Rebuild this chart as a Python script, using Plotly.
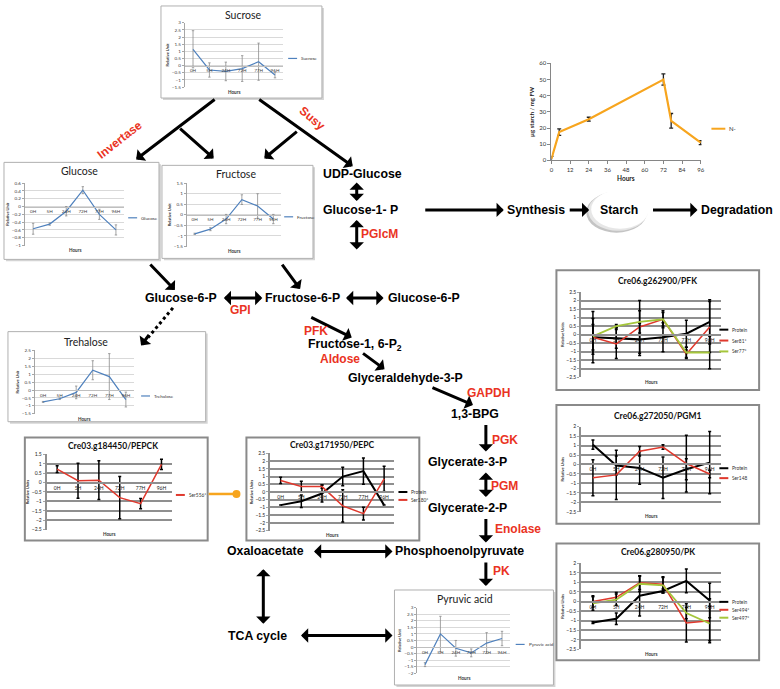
import plotly.graph_objects as go

W, H = 780, 689

# ---------------- data ----------------
HOURS = ["0H", "5H", "24H", "72H", "77H", "96H"]

sucrose = [1.15, -0.3, -0.4, -0.2, 0.28, -0.65]
sucrose_err = [1.3, 0.5, 0.65, 0.9, 1.3, 0.2]
glucose = [-0.57, -0.45, -0.12, 0.42, -0.2, -0.6]
glucose_err = [0.14, 0.03, 0.12, 0.09, 0.13, 0.13]
fructose = [-0.9, -0.68, -0.2, 0.72, 0.42, -0.2]
fructose_err = [0.03, 0.07, 0.22, 0.23, 0.58, 0.22]
trehalose = [-0.75, -0.55, -0.15, 1.25, 0.85, -0.6]
trehalose_err = [0.03, 0.05, 0.4, 0.6, 1.45, 0.47]
pyruvic = [-1.35, 1.0, -0.1, -0.45, 0.3, 0.65]
pyruvic_err = [0.15, 1.35, 0.6, 0.3, 0.8, 0.55]

starch_hours = [0, 5, 24, 72, 77, 96]
starch = [1, 17.5, 25.5, 50, 24.5, 11]
starch_err = [1.5, 2, 1.2, 3.5, 4.5, 1.2]

pepck_ser556 = [0.72, 0.1, 0.13, -0.8, -1.12, 0.97]
pepck_ser556_err = [0.18, 0.93, 1.03, 1.12, 0.27, 0.27]

pepc_protein = [-0.85, -0.6, -0.1, 1.0, 1.35, -0.85]
pepc_protein_err = [0.0, 0.4, 0.55, 0.6, 0.85, 0.0]
pepc_ser180 = [0.75, 0.35, 0.35, -0.9, -1.4, 0.85]
pepc_ser180_err = [0.2, 0.35, 0.1, 1.05, 0.42, 0.82]

pfk_protein = [-0.15, -0.2, -0.28, -0.15, 0.05, 0.75]
pfk_protein_err = [1.5, 0.6, 0.95, 0.85, 0.8, 1.3]
pfk_ser81 = [-0.15, -0.55, 0.45, 0.9, -1.15, 0.45]
pfk_ser81_err = [0.75, 0.85, 1.55, 0.5, 0.25, 1.5]
pfk_ser77 = [-0.1, 0.5, 0.75, 0.9, -1.05, -1.05]
pfk_ser77_err = [1.05, 0.1, 0.65, 0.4, 0.3, 0.95]

pgm_protein = [1.05, -0.05, -0.18, -0.7, -0.25, 0.1]
pgm_protein_err = [0.25, 0.5, 0.87, 1.1, 0.55, 1.65]
pgm_ser148 = [-0.7, -0.55, 0.7, 0.92, 0.05, -0.5]
pgm_ser148_err = [0.95, 1.3, 0.25, 0.12, 1.5, 0.2]

pk_protein = [-1.1, -0.9, 0.3, 0.55, 1.08, 0.05]
pk_protein_err = [0.05, 0.3, 1.05, 0.1, 0.62, 0.9]
pk_ser494 = [0.0, 0.22, 0.98, 0.9, -1.12, -1.0]
pk_ser494_err = [0.3, 0.25, 0.35, 0.4, 1.0, 1.15]
pk_ser497 = [-0.1, 0.1, 0.93, 0.85, -0.6, -1.15]
pk_ser497_err = [0.35, 0.3, 0.4, 0.4, 0.3, 0.9]

# ---------------- styling ----------------
FONT_S = "Lato, Carlito, sans-serif"
FONT_B = "Liberation Sans, Arial, sans-serif"
BLUE = "#4f81bd"
RED = "#e0392d"
GREEN = "#a5c63b"
ORANGE = "#f7a51e"
PATH_RED = "#ea3323"

fig = go.Figure()
shapes = []
annotations = []
layout = {}
_ax = [0]


def pxx(x):
    return x / W


def pyy(y):
    return 1 - y / H


def new_axes():
    _ax[0] += 1
    s = "" if _ax[0] == 1 else str(_ax[0])
    return "xaxis" + s, "yaxis" + s, "x" + s, "y" + s


def frame(box, kind):
    x0, y0, x1, y1 = box
    if kind == "met":
        shapes.append(dict(type="rect", xref="paper", yref="paper",
                           x0=pxx(x0 + 2), x1=pxx(x1 + 2), y0=pyy(y1 + 2), y1=pyy(y0 + 2),
                           fillcolor="#d4d4d4", line=dict(width=0), layer="below"))
        shapes.append(dict(type="rect", xref="paper", yref="paper",
                           x0=pxx(x0), x1=pxx(x1), y0=pyy(y1), y1=pyy(y0),
                           fillcolor="white", line=dict(color="#b0b0b0", width=1), layer="below"))
    else:
        shapes.append(dict(type="rect", xref="paper", yref="paper",
                           x0=pxx(x0), x1=pxx(x1), y0=pyy(y1), y1=pyy(y0),
                           fillcolor="white", line=dict(color="#8a8a8a", width=2), layer="below"))


def text(t, x, y, size=12, color="black", bold=True, angle=0, xanchor="center", family=FONT_B):
    annotations.append(dict(text=("<b>%s</b>" % t) if bold else t, x=pxx(x), y=pyy(y),
                            xref="paper", yref="paper", showarrow=False, textangle=angle,
                            xanchor=xanchor, yanchor="middle",
                            font=dict(family=family, size=size, color=color)))


def legend_item(name, color, x, y, width, kind):
    shapes.append(dict(type="line", xref="paper", yref="paper", x0=pxx(x), x1=pxx(x + 9),
                       y0=pyy(y), y1=pyy(y), line=dict(color=color, width=width)))
    text(name, x + 11, y, size=4.6 if kind == "met" else 4.8, color="#333", bold=False,
         xanchor="left", family=FONT_S)


def inset(box, plot, yr, dtick, series, kind, title, title_xy, legend_xy, legend_dy, ylabel):
    frame(box, kind)
    xk, yk, xr, yid = new_axes()
    x0, y0, x1, y1 = plot
    d0, d1 = pyy(y1), pyy(y0)
    zero = d0 + (0 - yr[0]) / (yr[1] - yr[0]) * (d1 - d0)
    met = kind == "met"
    grid = "#d9d9d9" if met else "#8f8f8f"
    tf = dict(family=FONT_S, size=4.6 if met else 5, color="#404040" if met else "#1a1a1a")
    layout[xk] = dict(domain=[pxx(x0), pxx(x1)], anchor="free", position=zero,
                      range=[-0.5, 5.5], tickmode="array", tickvals=list(range(6)),
                      ticktext=HOURS, showgrid=False, zeroline=False, showline=True,
                      linecolor="#bfbfbf" if met else "#8f8f8f", linewidth=1 if met else 2,
                      ticks="", tickfont=tf, fixedrange=True)
    layout[yk] = dict(domain=[d0, d1], anchor=xr, range=list(yr), dtick=dtick, tick0=0,
                      showgrid=True, gridcolor=grid, gridwidth=1 if met else 2,
                      zeroline=False, showline=True,
                      linecolor="#a6a6a6" if met else "#8f8f8f", linewidth=1 if met else 2,
                      ticks="outside", ticklen=2, tickcolor="#a6a6a6", tickfont=tf,
                      title=dict(text="<b>%s</b>" % ylabel, standoff=2,
                                 font=dict(family=FONT_S, size=4, color="#222")),
                      fixedrange=True)
    for name, vals, err, color, width in series:
        fig.add_trace(go.Scatter(
            x=list(range(6)), y=vals, mode="lines", name=name,
            line=dict(color=color, width=width),
            error_y=dict(type="data", array=err, color="#8c8c8c" if met else "black",
                         thickness=0.8 if met else 1.5, width=1.2 if met else 1.5),
            xaxis=xr, yaxis=yid, showlegend=False))
    if met:
        text(title, title_xy[0], title_xy[1], size=10.5, color="#222", bold=False, family=FONT_S)
    else:
        text(title, title_xy[0], title_xy[1], size=8.5, color="#111", bold=True, family=FONT_S)
    for k, (name, vals, err, color, width) in enumerate(series):
        legend_item(name, color, legend_xy[0], legend_xy[1] + k * legend_dy,
                    1.2 if met else 2, kind)
    text("Hours", (x0 + x1) / 2, y1 + (5 if met else 4.5), size=4.6, color="#333",
         bold=True, family=FONT_S)


# ---------------- metabolite insets ----------------
inset((160, 2, 322, 95), (184, 19, 283, 84), (-1.5, 3), 0.5,
      [("Sucrose", sucrose, sucrose_err, BLUE, 1.2)], "met",
      "Sucrose", (243, 11), (288, 55), 0, "Relative Unit")
inset((2, 160, 158, 258), (23, 181, 123, 244), (-1, 0.6), 0.2,
      [("Glucose", glucose, glucose_err, BLUE, 1.2)], "met",
      "Glucose", (78, 169), (127, 216), 0, "Relative Unit")
inset((161, 163, 313, 257), (186, 181, 281, 245), (-1.5, 1.5), 0.5,
      [("Fructose", fructose, fructose_err, BLUE, 1.2)], "met",
      "Fructose", (236, 172), (284, 215), 0, "Relative Unit")
inset((6, 331, 205, 422), (33, 350, 133, 414), (-1.5, 2.5), 0.5,
      [("Trehalose", trehalose, trehalose_err, BLUE, 1.2)], "met",
      "Trehalose", (85, 341), (140, 396), 0, "Relative Unit")
inset((395, 592, 555, 688), (418, 610, 511, 676), (-2, 3), 0.5,
      [("Pyruvic acid", pyruvic, pyruvic_err, BLUE, 1.2)], "met",
      "Pyruvic acid", (466, 601), (517, 647), 0, "Relative Unit")

# ---------------- protein insets ----------------
inset((23, 438, 207, 542), (45, 455, 171, 531), (-2.5, 1.5), 0.5,
      [("Ser556*", pepck_ser556, pepck_ser556_err, RED, 1.5)], "prot",
      "Cre03.g184450/PEPCK", (112, 447), (175, 496), 0, "Relative Units")
inset((246, 438, 420, 542), (270, 454, 395, 532), (-2.5, 2.5), 0.5,
      [("Protein", pepc_protein, pepc_protein_err, "black", 2),
       ("Ser180*", pepc_ser180, pepc_ser180_err, RED, 1.5)], "prot",
      "Cre03.g171950/PEPC", (333, 446), (399, 493), 8, "Relative Units")
inset((558, 269, 762, 390), (583, 291, 724, 377), (-2.5, 2.5), 0.5,
      [("Protein", pfk_protein, pfk_protein_err, "black", 2),
       ("Ser81*", pfk_ser81, pfk_ser81_err, RED, 1.5),
       ("Ser77*", pfk_ser77, pfk_ser77_err, GREEN, 1.8)], "prot",
      "Cre06.g262900/PFK", (660, 280), (722, 329), 11, "Relative Units")
inset((558, 405, 762, 525), (583, 427, 724, 513), (-2.5, 2), 0.5,
      [("Protein", pgm_protein, pgm_protein_err, "black", 2),
       ("Ser148", pgm_ser148, pgm_ser148_err, RED, 1.5)], "prot",
      "Cre06.g272050/PGM1", (660, 416), (722, 469), 10, "Relative Units")
inset((558, 545, 762, 663), (583, 565, 724, 652), (-2.5, 2), 0.5,
      [("Protein", pk_protein, pk_protein_err, "black", 2),
       ("Ser494*", pk_ser494, pk_ser494_err, RED, 1.5),
       ("Ser497*", pk_ser497, pk_ser497_err, GREEN, 1.8)], "prot",
      "Cre06.g280950/PK", (660, 554), (722, 604), 8, "Relative Units")

# ---------------- starch chart ----------------
xk, yk, xr, yid = new_axes()
layout[xk] = dict(domain=[pxx(553), pxx(704)], anchor=yid, range=[0, 96.5], dtick=12, tick0=0,
                  showgrid=False, zeroline=False, showline=True, linecolor="#868686",
                  ticks="outside", ticklen=3, tickcolor="#868686",
                  tickfont=dict(family=FONT_S, size=6, color="#333"), fixedrange=True)
layout[yk] = dict(domain=[pyy(158), pyy(60)], anchor=xr, range=[0, 60], dtick=10,
                  showgrid=False, zeroline=False, showline=True, linecolor="#868686",
                  ticks="outside", ticklen=3, tickcolor="#868686",
                  tickfont=dict(family=FONT_S, size=6, color="#333"),
                  title=dict(text="<b>µg starch / mg FW</b>", standoff=4,
                             font=dict(family=FONT_S, size=6, color="#222")),
                  fixedrange=True)
fig.add_trace(go.Scatter(x=starch_hours, y=starch, mode="lines", name="N-",
                         line=dict(color=ORANGE, width=2.2),
                         error_y=dict(type="data", array=starch_err, color="#222",
                                      thickness=1.3, width=2),
                         xaxis=xr, yaxis=yid, showlegend=False, cliponaxis=False))
shapes.append(dict(type="line", xref="paper", yref="paper", x0=pxx(714), x1=pxx(728),
                   y0=pyy(126), y1=pyy(126), line=dict(color=ORANGE, width=2)))
text("N-", 730, 126, size=6, color="#333", bold=False, xanchor="left", family=FONT_S)
text("Hours", 628, 176, size=6.5, color="#222", bold=True, family=FONT_S)

# ---------------- starch ellipse ----------------
shapes.append(dict(type="circle", xref="paper", yref="paper", x0=pxx(588), x1=pxx(649),
                   y0=pyy(231), y1=pyy(190), fillcolor="#c4c4c4", line=dict(width=0)))
shapes.append(dict(type="circle", xref="paper", yref="paper", x0=pxx(590), x1=pxx(650),
                   y0=pyy(229), y1=pyy(189), fillcolor="#e6e6e6", line=dict(width=0)))
shapes.append(dict(type="circle", xref="paper", yref="paper", x0=pxx(593), x1=pxx(651),
                   y0=pyy(227), y1=pyy(188), fillcolor="white", line=dict(width=0)))

# ---------------- orange connector ----------------
shapes.append(dict(type="line", xref="paper", yref="paper", x0=pxx(208), x1=pxx(236),
                   y0=pyy(495), y1=pyy(495), line=dict(color=ORANGE, width=2.5)))
shapes.append(dict(type="circle", xref="paper", yref="paper", x0=pxx(232), x1=pxx(240),
                   y0=pyy(499), y1=pyy(491), fillcolor=ORANGE, line=dict(width=0)))

# ---------------- dotted arrow to trehalose ----------------
shapes.append(dict(type="line", xref="paper", yref="paper", x0=pxx(172), x1=pxx(147),
                   y0=pyy(307), y1=pyy(337), line=dict(color="black", width=3, dash="dot")))


def arrow(tail, tip, both=False, width=3):
    annotations.append(dict(x=pxx(tip[0]), y=pyy(tip[1]), xref="paper", yref="paper",
                            ax=tail[0] - tip[0], ay=tail[1] - tip[1],
                            axref="pixel", ayref="pixel", showarrow=True, text="",
                            arrowhead=1, arrowsize=0.8, arrowwidth=width,
                            arrowcolor="black",
                            arrowside="end+start" if both else "end",
                            startarrowhead=1, startarrowsize=0.8))


arrows = [
    ((215, 96), (135, 157), False),
    ((178, 125), (213, 156), False),
    ((258, 96), (353, 164), False),
    ((298, 128), (264, 156), False),
    ((357, 179), (357, 199), True),
    ((357, 217), (357, 248), True),
    ((425, 208), (505, 208), False),
    ((570, 208), (591, 208), False),
    ((654, 208), (700, 208), False),
    ((148, 262), (174, 289), False),
    ((281, 262), (300, 288), False),
    ((222, 297), (262, 297), True),
    ((345, 297), (384, 297), True),
    ((310, 316), (352, 337), False),
    ((362, 352), (385, 369), False),
    ((432, 387), (474, 405), False),
    ((487, 424), (487, 452), False),
    ((487, 472), (487, 498), True),
    ((487, 519), (487, 544), False),
    ((487, 563), (487, 588), False),
    ((313, 553), (393, 553), True),
    ((263, 570), (263, 626), True),
    ((300, 638), (393, 638), True),
    ((149, 333), (140, 345), False),
]
for tail, tip, both in arrows:
    arrow(tail, tip, both)

# ---------------- pathway labels ----------------
for t, x, y in [
    ("UDP-Glucose", 363, 172), ("Glucose-1- P", 361, 208), ("Synthesis", 537, 208),
    ("Starch", 621, 208), ("Glucose-6-P", 180, 297),
    ("Fructose-6-P", 302, 297), ("Glucose-6-P", 425, 297),
    ("Fructose-1, 6-P<sub>2</sub>", 355, 345), ("Glyceraldehyde-3-P", 406, 378),
    ("1,3-BPG", 476, 414), ("Glycerate-3-P", 468, 463), ("Glycerate-2-P", 468, 509),
    ("Oxaloacetate", 265, 553), ("Phosphoenolpyruvate", 460, 553), ("TCA cycle", 257, 638),
]:
    text(t, x, y, size=12.3)
text("Degradation", 778, 208, size=12.3, xanchor="right")

for t, x, y, a in [
    ("Invertase", 118, 137, -38), ("Susy", 312, 115, 40), ("PGlcM", 380, 232, 0),
    ("GPI", 240, 309, 0), ("PFK", 316, 330, 0), ("Aldose", 340, 359, 0),
    ("GAPDH", 490, 393, 0), ("PGK", 506, 440, 0), ("PGM", 506, 487, 0),
    ("Enolase", 519, 530, 0), ("PK", 503, 573, 0),
]:
    text(t, x, y, size=12, color=PATH_RED, angle=a)

fig.update_layout(width=W, height=H, margin=dict(l=0, r=0, t=0, b=0),
                  paper_bgcolor="white", plot_bgcolor="rgba(0,0,0,0)",
                  showlegend=False, shapes=shapes, annotations=annotations, **layout)
fig.write_html("out.html", config={"displayModeBar": False},
               post_script="document.body.style.margin='0';document.body.style.padding='0';")
